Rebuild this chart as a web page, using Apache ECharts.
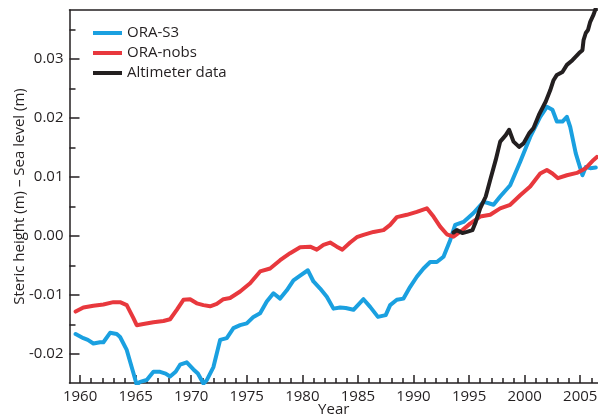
<!DOCTYPE html>
<html>
<head>
<meta charset="utf-8">
<script src="https://cdn.jsdelivr.net/npm/echarts@6/dist/echarts.min.js"></script>
<style>
  html, body { margin: 0; padding: 0; background: #fff; }
  #chart { width: 598px; height: 419px; }
</style>
</head>
<body>
<div id="chart"></div>
<script>
// values (year, metres)
var s3Years = [1959.6, 1960.3, 1960.7, 1961.2, 1961.8, 1962.1, 1962.7, 1963.3, 1963.6, 1964.2, 1964.8, 1965.1, 1965.4, 1966.0, 1966.6, 1967.2, 1967.7, 1968.1, 1968.6, 1969.0, 1969.6, 1970.2, 1970.6, 1971.1, 1971.4, 1972.0, 1972.6, 1973.2, 1973.8, 1974.4, 1975.0, 1975.6, 1976.2, 1976.8, 1977.4, 1978.0, 1978.6, 1979.2, 1979.8, 1980.5, 1981.0, 1981.6, 1982.2, 1982.8, 1983.4, 1983.9, 1984.6, 1985.5, 1986.1, 1986.8, 1987.5, 1987.9, 1988.5, 1989.1, 1989.7, 1990.3, 1990.9, 1991.5, 1992.1, 1992.7, 1993.3, 1993.75, 1994.5, 1995.4, 1996.3, 1996.7, 1997.2, 1997.8, 1998.7, 1999.6, 2000.5, 2001.4, 2002.0, 2002.5, 2002.9, 2003.4, 2003.8, 2004.1, 2004.6, 2005.2, 2005.5, 2005.9, 2006.4]
var s3Values = [-0.0166, -0.0173, -0.0176, -0.0182, -0.0180, -0.0180, -0.0164, -0.0166, -0.0171, -0.0193, -0.0232, -0.0252, -0.0247, -0.0244, -0.0230, -0.0230, -0.0233, -0.0238, -0.0230, -0.0218, -0.0214, -0.0226, -0.0233, -0.0250, -0.0244, -0.0222, -0.0176, -0.0173, -0.0156, -0.0151, -0.0148, -0.0137, -0.0131, -0.0111, -0.0097, -0.0106, -0.0092, -0.0075, -0.0067, -0.0058, -0.0077, -0.0089, -0.0103, -0.0123, -0.0121, -0.0122, -0.0125, -0.0107, -0.0120, -0.0137, -0.0134, -0.0117, -0.0108, -0.0106, -0.0086, -0.0069, -0.0055, -0.0044, -0.0044, -0.0035, -0.0007, 0.0019, 0.0024, 0.0039, 0.0058, 0.0056, 0.0053, 0.0067, 0.0086, 0.0126, 0.0168, 0.0202, 0.0219, 0.0214, 0.0194, 0.0194, 0.0202, 0.0185, 0.0140, 0.0103, 0.0117, 0.0115, 0.0116]

var nobsYears = [1959.6, 1960.3, 1961.2, 1962.1, 1963.0, 1963.6, 1964.2, 1964.8, 1965.1, 1965.7, 1966.6, 1967.5, 1968.1, 1968.7, 1969.3, 1969.9, 1970.5, 1971.1, 1971.7, 1972.3, 1972.9, 1973.5, 1974.4, 1975.3, 1976.2, 1977.1, 1978.0, 1978.9, 1979.8, 1980.7, 1981.3, 1981.9, 1982.5, 1983.1, 1983.6, 1984.3, 1984.9, 1985.5, 1986.4, 1987.3, 1987.9, 1988.5, 1989.4, 1990.3, 1991.2, 1991.8, 1992.4, 1993.0, 1993.6, 1994.4, 1995.1, 1996.0, 1996.9, 1997.8, 1998.7, 1999.6, 2000.5, 2001.4, 2002.0, 2002.5, 2003.0, 2003.8, 2004.7, 2005.5, 2006.2, 2006.5]
var nobsValues = [-0.0128, -0.0121, -0.0118, -0.0116, -0.0112, -0.0112, -0.0117, -0.0139, -0.0151, -0.0149, -0.0146, -0.0144, -0.0141, -0.0125, -0.0108, -0.0107, -0.0114, -0.0117, -0.0119, -0.0115, -0.0107, -0.0105, -0.0094, -0.0080, -0.0060, -0.0055, -0.0041, -0.0029, -0.0019, -0.0018, -0.0023, -0.0015, -0.0011, -0.0018, -0.0023, -0.0011, -0.0002, 0.0002, 0.0007, 0.0010, 0.0019, 0.0032, 0.0036, 0.0041, 0.0047, 0.0033, 0.0016, 0.0003, -0.0001, 0.0010, 0.0021, 0.0033, 0.0036, 0.0047, 0.0053, 0.0069, 0.0084, 0.0106, 0.0112, 0.0106, 0.0098, 0.0103, 0.0107, 0.0115, 0.0129, 0.0134]

var altYears = [1993.6, 1993.9, 1994.4, 1994.8, 1995.3, 1995.6, 1996.0, 1996.5, 1996.9, 1997.4, 1997.8, 1998.3, 1998.6, 1999.0, 1999.5, 1999.9, 2000.4, 2000.8, 2001.3, 2001.9, 2002.3, 2002.6, 2002.9, 2003.4, 2003.8, 2004.3, 2004.6, 2004.9, 2005.2, 2005.3, 2005.5, 2005.7, 2005.9, 2006.2, 2006.4]
var altValues = [0.0006, 0.0010, 0.0005, 0.0007, 0.0010, 0.0024, 0.0047, 0.0067, 0.0095, 0.0129, 0.0160, 0.0171, 0.0180, 0.0160, 0.0151, 0.0157, 0.0174, 0.0183, 0.0206, 0.0228, 0.0247, 0.0264, 0.0273, 0.0278, 0.0290, 0.0298, 0.0304, 0.0310, 0.0315, 0.0332, 0.0344, 0.0349, 0.0363, 0.0375, 0.0386]

var xMajor = [1960, 1965, 1970, 1975, 1980, 1985, 1990, 1995, 2000, 2005]
var xMinor = [1960, 1961, 1962, 1963, 1964, 1965, 1966, 1967, 1968, 1969, 1970, 1971, 1972, 1973, 1974, 1975, 1976, 1977, 1978, 1979, 1980, 1981, 1982, 1983, 1984, 1985, 1986, 1987, 1988, 1989, 1990, 1991, 1992, 1993, 1994, 1995, 1996, 1997, 1998, 1999, 2000, 2001, 2002, 2003, 2004, 2005, 2006]
var yMajor = [-0.02, -0.01, 0.00, 0.01, 0.02, 0.03]
var yMinor = [-0.02, -0.015, -0.01, -0.005, 0.00, 0.005, 0.01, 0.015, 0.02, 0.025, 0.03, 0.035]

function pairs(xs, ys) {
  return xs.map(function(x, i) { return [x, ys[i]] })
}

var FONT = 'Open Sans'
var INK = '#231f20'
var X_MIN = 1959.05
var X_MAX = 2006.6
var Y_MIN = -0.0249
var Y_MAX = 0.0383

var chart = echarts.init(document.getElementById('chart'), null, { renderer: 'canvas' })

var baseX = {
  type: 'value',
  min: X_MIN,
  max: X_MAX,
  splitLine: { show: false }
}
var baseY = {
  type: 'value',
  min: Y_MIN,
  max: Y_MAX,
  splitLine: { show: false }
}

chart.setOption({
  animation: false,
  grid: { left: 69.5, right: 0, top: 10, bottom: 36, outerBoundsMode: 'none', containLabel: false },
  legend: {
    orient: 'vertical',
    left: 88,
    top: 19,
    itemWidth: 29,
    itemHeight: 4,
    itemGap: 2,
    icon: 'rect',
    textStyle: { fontFamily: FONT, fontSize: 15, color: INK, lineHeight: 18 },
    data: ['ORA-S3', 'ORA-nobs', 'Altimeter data']
  },
  xAxis: [
    Object.assign({}, baseX, {
      position: 'bottom',
      name: 'Year',
      nameLocation: 'middle',
      nameGap: 19,
      nameMoveOverlap: false,
      nameTextStyle: { fontFamily: FONT, fontSize: 15, color: INK },
      axisLine: { show: true, onZero: false, lineStyle: { color: INK, width: 1.5 } },
      axisTick: { show: true, inside: true, length: 8, customValues: xMajor, lineStyle: { color: INK, width: 1.5 } },
      axisLabel: {
        show: true,
        customValues: xMajor,
        margin: 6,
        fontFamily: FONT,
        fontSize: 15,
        color: INK,
        formatter: function(v) { return String(Math.round(v)) }
      }
    }),
    // yearly minor ticks
    Object.assign({}, baseX, {
      position: 'bottom',
      axisLine: { show: false, onZero: false },
      axisTick: { show: true, inside: true, length: 5, customValues: xMinor, lineStyle: { color: INK, width: 1.5 } },
      axisLabel: { show: false }
    }),
    // top frame line
    Object.assign({}, baseX, {
      position: 'top',
      axisLine: { show: true, onZero: false, lineStyle: { color: INK, width: 1.5 } },
      axisTick: { show: false },
      axisLabel: { show: false }
    })
  ],
  yAxis: [
    Object.assign({}, baseY, {
      position: 'left',
      name: 'Steric height (m) \u2013 Sea level (m)',
      nameLocation: 'middle',
      nameGap: 42,
      nameMoveOverlap: false,
      nameTextStyle: { fontFamily: FONT, fontSize: 15, color: INK },
      axisLine: { show: true, onZero: false, lineStyle: { color: INK, width: 1.5 } },
      axisTick: { show: true, inside: true, length: 10, customValues: yMajor, lineStyle: { color: INK, width: 1.5 } },
      axisLabel: {
        show: true,
        customValues: yMajor,
        margin: 6,
        fontFamily: FONT,
        fontSize: 15,
        color: INK,
        formatter: function(v) { return v.toFixed(2) }
      }
    }),
    Object.assign({}, baseY, {
      position: 'left',
      axisLine: { show: false, onZero: false },
      axisTick: { show: true, inside: true, length: 6, customValues: yMinor, lineStyle: { color: INK, width: 1.5 } },
      axisLabel: { show: false }
    })
  ],
  series: [
    {
      name: 'ORA-S3',
      type: 'line',
      showSymbol: false,
      clip: true,
      itemStyle: { color: '#1aa0e0' },
      lineStyle: { color: '#1aa0e0', width: 4, join: 'round', cap: 'round' },
      data: pairs(s3Years, s3Values)
    },
    {
      name: 'ORA-nobs',
      type: 'line',
      showSymbol: false,
      clip: true,
      itemStyle: { color: '#e8383d' },
      lineStyle: { color: '#e8383d', width: 4, join: 'round', cap: 'round' },
      data: pairs(nobsYears, nobsValues)
    },
    {
      name: 'Altimeter data',
      type: 'line',
      showSymbol: false,
      clip: true,
      itemStyle: { color: INK },
      lineStyle: { color: INK, width: 4, join: 'round', cap: 'round' },
      data: pairs(altYears, altValues)
    }
  ]
})
</script>
</body>
</html>
